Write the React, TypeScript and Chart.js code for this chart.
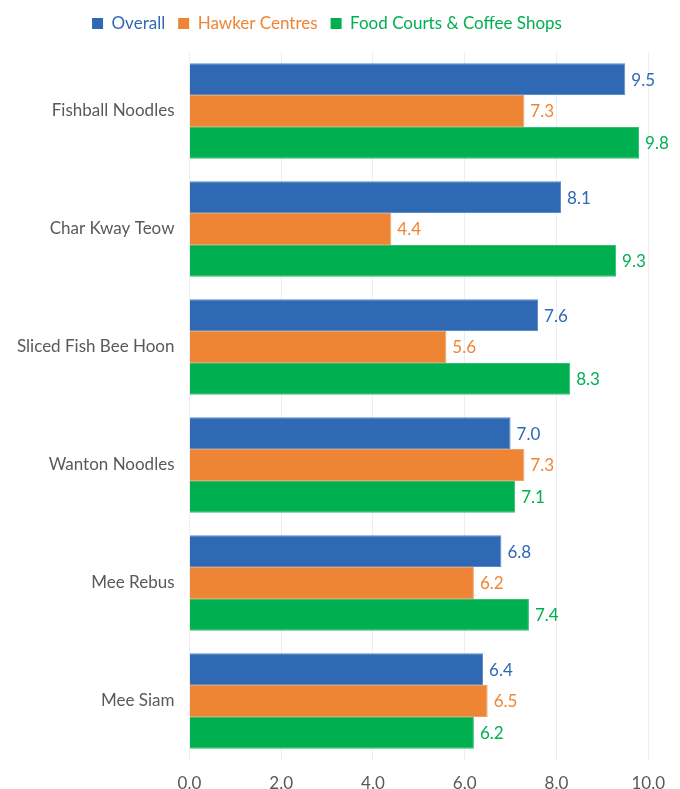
import React, { useEffect, useRef } from "react";
import { Chart, registerables } from "chart.js";

Chart.register(...registerables);

const categories = [
  "Fishball Noodles",
  "Char Kway Teow",
  "Sliced Fish Bee Hoon",
  "Wanton Noodles",
  "Mee Rebus",
  "Mee Siam",
];
const overall = [9.5, 8.1, 7.6, 7.0, 6.8, 6.4];
const hawker = [7.3, 4.4, 5.6, 7.3, 6.2, 6.5];
const foodCourts = [9.8, 9.3, 8.3, 7.1, 7.4, 6.2];
const seriesNames = ["Overall", "Hawker Centres", "Food Courts & Coffee Shops"];
const colors = ["#2F69B3", "#ED8535", "#00B050"];
const borderColors = ["#5B8BCB", "#F2A062", "#33C070"];

const FONT = "Lato, 'Open Sans', sans-serif";
const FS = 17;

const valueLabels = {
  id: "valueLabels",
  afterDatasetsDraw(chart: any) {
    const ctx = chart.ctx;
    ctx.save();
    ctx.font = `${FS}px ${FONT}`;
    ctx.textBaseline = "middle";
    ctx.textAlign = "left";
    chart.data.datasets.forEach((ds: any, di: number) => {
      const meta = chart.getDatasetMeta(di);
      ctx.fillStyle = colors[di];
      meta.data.forEach((bar: any, i: number) => {
        ctx.fillText(Number(ds.data[i]).toFixed(1), bar.x + 6, bar.y + 1);
      });
    });
    ctx.restore();
  },
};

const legendMargin = {
  id: "legendMargin",
  beforeInit(chart: any) {
    const orig = chart.legend.fit;
    chart.legend.fit = function () {
      orig.bind(chart.legend)();
      this.height += 10;
    };
  },
};

export default function App() {
  const ref = useRef<HTMLCanvasElement>(null);
  useEffect(() => {
    document.body.style.margin = "0";
    const chart = new Chart(ref.current!, {
      type: "bar",
      data: {
        labels: categories,
        datasets: [overall, hawker, foodCourts].map((d, i) => ({
          label: seriesNames[i],
          data: d,
          backgroundColor: colors[i],
          borderColor: borderColors[i],
          borderWidth: 1,
          categoryPercentage: 0.81,
          barPercentage: 1.0,
        })),
      },
      options: {
        indexAxis: "y",
        animation: false,
        responsive: false,
        maintainAspectRatio: false,
        layout: { padding: { top: 2, right: 28, left: 2, bottom: -3 } },
        plugins: {
          legend: {
            position: "top",
            labels: {
              boxWidth: 11,
              boxHeight: 11,
              padding: 13,
              font: { family: FONT, size: FS },
              generateLabels: (chart: any) =>
                chart.data.datasets.map((ds: any, i: number) => ({
                  text: ds.label,
                  fillStyle: colors[i],
                  strokeStyle: colors[i],
                  fontColor: colors[i],
                  lineWidth: 0,
                  datasetIndex: i,
                  hidden: false,
                })),
            },
          },
          tooltip: { enabled: false },
        },
        scales: {
          x: {
            min: 0,
            max: 10,
            afterFit: (scale: any) => {
              scale.height = 32;
            },
            ticks: {
              stepSize: 2,
              color: "#595959",
              padding: 15,
              font: { family: FONT, size: FS, lineHeight: 1 },
              callback: (v: any) => Number(v).toFixed(1),
            },
            grid: { color: "#EEEEEE", drawTicks: false },
            border: { display: false },
          },
          y: {
            ticks: {
              color: "#595959",
              padding: 15,
              font: { family: FONT, size: FS },
            },
            grid: { display: false, drawTicks: false },
            border: { display: false },
          },
        },
      },
      plugins: [valueLabels, legendMargin],
    });
    return () => chart.destroy();
  }, []);
  return <canvas ref={ref} width={680} height={789} style={{ display: "block" }} />;
}
